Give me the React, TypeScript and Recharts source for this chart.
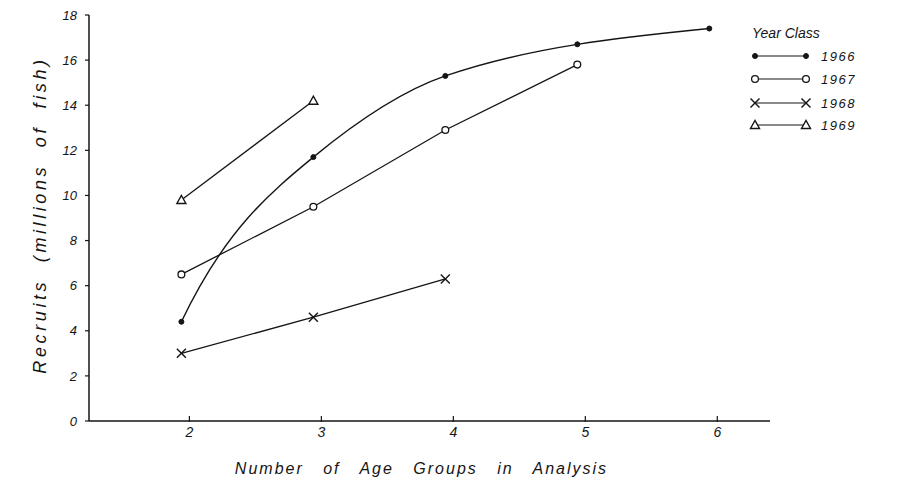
import React from 'react';
import { LineChart, Line, XAxis, YAxis, Legend } from 'recharts';

// Number of age groups used in the analysis (x axis)
const ageGroups = [2, 3, 4, 5, 6];

// Estimated recruits, millions of fish, per year class
const recruits1966 = [4.4, 11.7, 15.3, 16.7, 17.4];
const recruits1967 = [6.5, 9.5, 12.9, 15.8];
const recruits1968 = [3.0, 4.6, 6.3];
const recruits1969 = [9.8, 14.2];

const yearClasses = ['1966', '1967', '1968', '1969'];
const yTicks = [0, 2, 4, 6, 8, 10, 12, 14, 16, 18];
const xTicks = [2, 3, 4, 5, 6];

const toRows = (values: number[]) =>
  values.map((v, i) => ({ age: ageGroups[i], recruits: v }));

const INK = '#151515';
const FONT = "'Liberation Sans', 'DejaVu Sans', sans-serif";

// Saturating-curve interpolator: cubic Hermite segments whose interior
// tangents are harmonic means of the neighbouring secants (Fritsch–Butland),
// with the first tangent chosen so the opening segment stays concave all the
// way to the second point — a sharp rise that flattens out like a growth curve.
function saturatingCurve(context: any) {
  let xs: number[] = [];
  let ys: number[] = [];
  return {
    areaStart() {},
    areaEnd() {},
    lineStart() {
      xs = [];
      ys = [];
    },
    point(x: number, y: number) {
      xs.push(+x);
      ys.push(+y);
    },
    lineEnd() {
      const n = xs.length;
      if (n === 0) return;
      context.moveTo(xs[0], ys[0]);
      if (n === 1) return;
      const d: number[] = [];
      for (let i = 0; i < n - 1; i++) d.push((ys[i + 1] - ys[i]) / (xs[i + 1] - xs[i]));
      const m: number[] = new Array(n).fill(0);
      for (let i = 1; i < n - 1; i++) {
        const a = d[i - 1];
        const b = d[i];
        m[i] = a * b > 0 ? (2 * a * b) / (a + b) : 0;
      }
      m[0] = n > 2 ? 3 * d[0] - 2 * m[1] : d[0];
      m[n - 1] = n > 2 ? (3 * d[n - 2] - m[n - 2]) / 2 : d[n - 2];
      for (let i = 0; i < n - 1; i++) {
        const h = (xs[i + 1] - xs[i]) / 3;
        context.bezierCurveTo(
          xs[i] + h,
          ys[i] + h * m[i],
          xs[i + 1] - h,
          ys[i + 1] - h * m[i + 1],
          xs[i + 1],
          ys[i + 1]
        );
      }
    },
  };
}

type MarkerKind = '1966' | '1967' | '1968' | '1969';

function Marker({ kind, cx, cy }: { kind: MarkerKind; cx: number; cy: number }) {
  if (cx == null || cy == null) return null;
  if (kind === '1966') {
    return <circle cx={cx} cy={cy} r={2.5} fill={INK} stroke={INK} strokeWidth={1} />;
  }
  if (kind === '1967') {
    return <circle cx={cx} cy={cy} r={3.4} fill="#fff" stroke={INK} strokeWidth={1.3} />;
  }
  if (kind === '1968') {
    return (
      <g stroke={INK} strokeWidth={1.4}>
        <line x1={cx - 4.5} y1={cy - 4.5} x2={cx + 4.5} y2={cy + 4.5} />
        <line x1={cx - 4.5} y1={cy + 4.5} x2={cx + 4.5} y2={cy - 4.5} />
      </g>
    );
  }
  return (
    <polygon
      points={`${cx - 4.5},${cy + 3.5} ${cx + 4.5},${cy + 3.5} ${cx},${cy - 4.5}`}
      fill="#fff"
      stroke={INK}
      strokeWidth={1.4}
    />
  );
}

const dotFor = (kind: MarkerKind) => (p: any) =>
  <Marker key={`${kind}-${p.index}`} kind={kind} cx={p.cx} cy={p.cy} />;

function AgeTick({ x, y, payload }: any) {
  const px = x + 8;
  return (
    <g>
      <line x1={px} x2={px} y1={y - 5} y2={y + 1} stroke={INK} strokeWidth={1.2} />
      <text
        x={px}
        y={y + 16}
        textAnchor="middle"
        fontFamily={FONT}
        fontStyle="italic"
        fontSize={14}
        fill={INK}
      >
        {payload.value}
      </text>
    </g>
  );
}

function YearClassLegend() {
  const rowY = [36, 59, 83, 105];
  return (
    <svg width={165} height={120} style={{ display: 'block', overflow: 'visible' }}>
      <text x={7} y={18} fontFamily={FONT} fontStyle="italic" fontSize={14} fill={INK}>
        Year Class
      </text>
      {yearClasses.map((yc, i) => (
        <g key={yc}>
          <line x1={10} x2={61} y1={rowY[i]} y2={rowY[i]} stroke={INK} strokeWidth={1.2} />
          <Marker kind={yc as MarkerKind} cx={10} cy={rowY[i]} />
          <Marker kind={yc as MarkerKind} cx={61} cy={rowY[i]} />
          <text
            x={76}
            y={rowY[i] + 5}
            fontFamily={FONT}
            fontStyle="italic"
            fontSize={13}
            letterSpacing={1.5}
            fill={INK}
          >
            {yc}
          </text>
        </g>
      ))}
    </svg>
  );
}

function YTitle({ viewBox }: any) {
  const cx = 40;
  const cy = viewBox.y + viewBox.height / 2 - 3;
  return (
    <text
      x={cx}
      y={cy}
      transform={`rotate(-90, ${cx}, ${cy})`}
      textAnchor="middle"
      dominantBaseline="central"
      fontFamily={FONT}
      fontStyle="italic"
      fontSize={18}
      letterSpacing={3.6}
      wordSpacing={8}
      fill={INK}
    >
      Recruits (millions of fish)
    </text>
  );
}

function XTitle({ viewBox }: any) {
  const cx = viewBox.x + viewBox.width / 2 - 8;
  const cy = 468;
  return (
    <text
      x={cx}
      y={cy}
      textAnchor="middle"
      dominantBaseline="central"
      fontFamily={FONT}
      fontStyle="italic"
      fontSize={16}
      letterSpacing={2}
      wordSpacing={13}
      fill={INK}
    >
      Number of Age Groups in Analysis
    </text>
  );
}

export default function App() {
  return (
    <div style={{ position: 'absolute', left: 0, top: 0, background: '#fff' }}>
      <LineChart
        width={910}
        height={493}
        margin={{ top: 15, right: 140, bottom: 42, left: 29 }}
      >
        <XAxis
          type="number"
          dataKey="age"
          domain={[1.3, 6.46]}
          ticks={xTicks}
          allowDataOverflow
          height={30}
          tickLine={false}
          tickSize={0}
          tickMargin={0}
          tick={<AgeTick />}
          axisLine={{ stroke: INK, strokeWidth: 1.5 }}
          label={<XTitle />}
        />
        <YAxis
          type="number"
          domain={[0, 18]}
          ticks={yTicks}
          width={60}
          tickSize={4}
          tickMargin={8}
          tickLine={{ stroke: INK, strokeWidth: 1.2 }}
          axisLine={{ stroke: INK, strokeWidth: 1.5 }}
          tick={{ fontSize: 13, fill: INK, fontStyle: 'italic', fontFamily: FONT }}
          label={<YTitle />}
        />
        <Legend
          verticalAlign="middle"
          align="center"
          layout="vertical"
          content={() => <YearClassLegend />}
          wrapperStyle={{ left: 745, top: 20, width: 165, height: 120 }}
        />
        <Line
          data={toRows(recruits1969)}
          dataKey="recruits"
          type="linear"
          stroke={INK}
          strokeWidth={1.3}
          dot={dotFor('1969')}
          activeDot={false}
          isAnimationActive={false}
        />
        <Line
          data={toRows(recruits1968)}
          dataKey="recruits"
          type="linear"
          stroke={INK}
          strokeWidth={1.3}
          dot={dotFor('1968')}
          activeDot={false}
          isAnimationActive={false}
        />
        <Line
          data={toRows(recruits1967)}
          dataKey="recruits"
          type="linear"
          stroke={INK}
          strokeWidth={1.3}
          dot={dotFor('1967')}
          activeDot={false}
          isAnimationActive={false}
        />
        <Line
          data={toRows(recruits1966)}
          dataKey="recruits"
          type={saturatingCurve as any}
          stroke={INK}
          strokeWidth={1.4}
          dot={dotFor('1966')}
          activeDot={false}
          isAnimationActive={false}
        />
      </LineChart>
    </div>
  );
}
